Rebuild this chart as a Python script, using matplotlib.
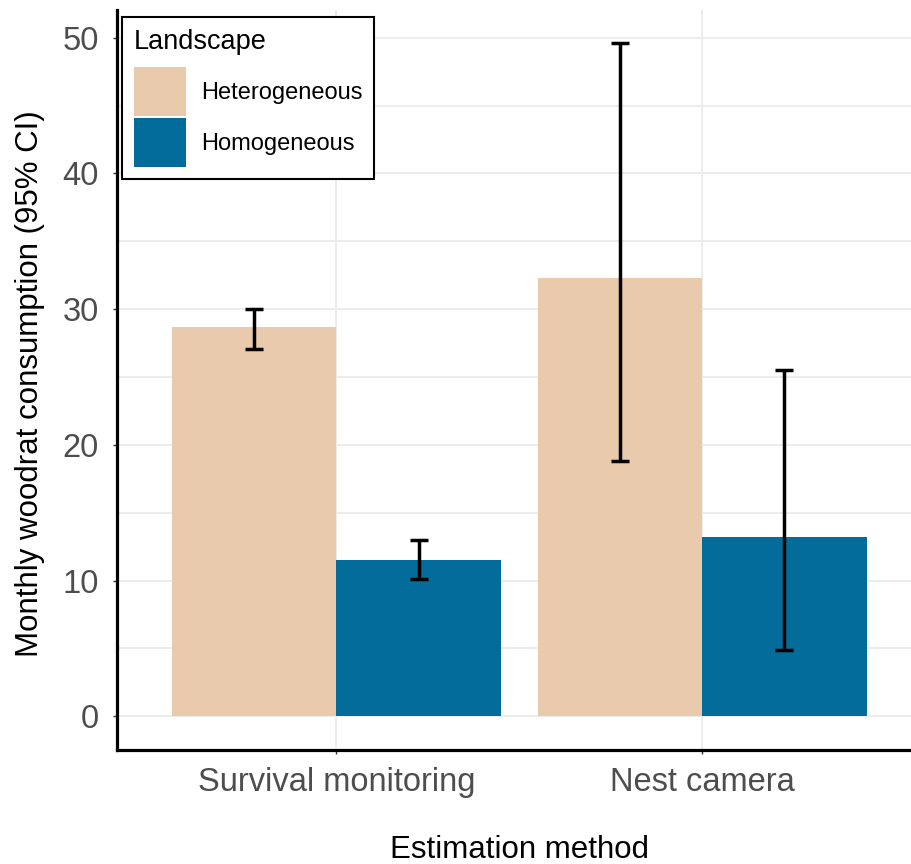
import matplotlib.pyplot as plt
import matplotlib.patches as patches
import numpy as np

plt.rcParams['font.family'] = ['Liberation Sans', 'DejaVu Sans']

# Данные
methods = ["Survival monitoring", "Nest camera"]
landscapes = ["Heterogeneous", "Homogeneous"]
colors = ["#EACAAD", "#046C9A"]
het_mean = [28.7, 32.3]
het_low = [27.1, 18.8]
het_high = [30.0, 49.6]
hom_mean = [11.5, 13.2]
hom_low = [10.1, 4.9]
hom_high = [13.0, 25.5]

W, H = 911, 864
ax_w, ax_h = 921.6 - 117, 750 - 9.5
fig = plt.figure(figsize=(W / 100, H / 100), dpi=100)
ax = fig.add_axes([117 / W, (H - 750) / H, ax_w / W, ax_h / H])

x = np.arange(1, len(methods) + 1)
bw = 0.45
series = [(het_mean, het_low, het_high), (hom_mean, hom_low, hom_high)]
for i, (m, lo, hi) in enumerate(series):
    pos = x + (i - 0.5) * bw
    m = np.array(m)
    yerr = [m - np.array(lo), np.array(hi) - m]
    ax.bar(pos, m, width=bw, color=colors[i], zorder=2, label=landscapes[i])
    ax.errorbar(pos, m, yerr=yerr, fmt='none', ecolor='black', elinewidth=2.5,
                capsize=6.5, capthick=2.5, zorder=3)

ax.set_xlim(0.4, 2.6)
ax.set_ylim(-2.48, 52.08)
ax.set_yticks([0, 10, 20, 30, 40, 50])
ax.set_yticks([5, 15, 25, 35, 45], minor=True)
ax.set_xticks(x)
ax.set_xticklabels(methods)

ax.grid(True, which='major', color='#ebebeb', linewidth=1.3, zorder=0)
ax.grid(True, which='minor', axis='y', color='#ebebeb', linewidth=1.3, zorder=0)
ax.set_axisbelow(True)

for s in ['top', 'right']:
    ax.spines[s].set_visible(False)
for s in ['left', 'bottom']:
    ax.spines[s].set_linewidth(2.3)
    ax.spines[s].set_color('black')

ax.tick_params(axis='both', which='major', labelsize=23.5, labelcolor='#4d4d4d',
               color='#333333', length=3, width=1)
ax.tick_params(axis='y', which='minor', length=0)
ax.tick_params(axis='y', pad=10)
ax.tick_params(axis='x', pad=9)

ax.set_xlabel("Estimation method", fontsize=22.5, va='center')
ax.xaxis.set_label_coords(0.5, -100 / ax_h)
ax.set_ylabel("Monthly woodrat consumption (95% CI)", fontsize=22.5, va='center')
ax.yaxis.set_label_coords(-(117 - 30) / ax_w, 0.495)

handles = [patches.Patch(facecolor=c, edgecolor='none') for c in colors]
leg = ax.legend(handles, landscapes, title="Landscape", loc='upper left',
                bbox_to_anchor=(5 / ax_w, 1 - 7.5 / ax_h),
                fontsize=17, title_fontsize=19.5, frameon=True, fancybox=False,
                edgecolor='black', framealpha=1, handlelength=2.2, handleheight=2.8,
                labelspacing=0.1, handletextpad=0.65, borderpad=0.5, borderaxespad=0)
leg._legend_box.align = "left"
leg._legend_box.sep = 9
leg.get_frame().set_linewidth(1.5)

fig.savefig("out.png", dpi=100)
